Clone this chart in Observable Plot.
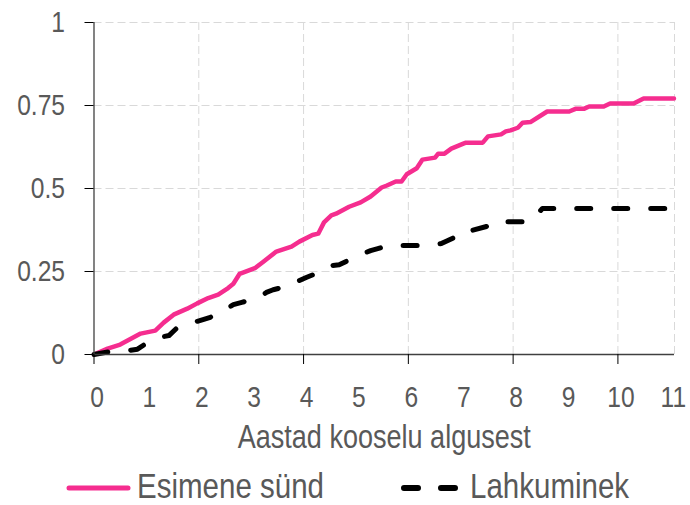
<!DOCTYPE html>
<html>
<head>
<meta charset="utf-8">
<script src="https://cdn.jsdelivr.net/npm/d3@7"></script>
<script src="https://cdn.jsdelivr.net/npm/@observablehq/plot@0.6"></script>
<style>
  html, body { margin: 0; padding: 0; background: #fff; }
  #chart { width: 690px; height: 505px; position: relative; }
</style>
</head>
<body>
<div id="chart"></div>
<script>
// Series: first birth (Esimene sünd)
const birthT = [0, 0.26, 0.5, 0.89, 1.17, 1.33, 1.52, 1.78, 1.97, 2.18, 2.37, 2.56, 2.66, 2.78, 3.07, 3.22, 3.48, 3.77, 3.92, 4.17, 4.28, 4.39, 4.53, 4.62, 4.87, 5.09, 5.28, 5.49, 5.59, 5.76, 5.87, 5.97, 6.16, 6.27, 6.51, 6.57, 6.69, 6.82, 7.05, 7.1, 7.42, 7.52, 7.77, 7.86, 7.95, 8.09, 8.18, 8.33, 8.65, 9.07, 9.19, 9.35, 9.45, 9.73, 9.85, 10.3, 10.49, 11.07];
const birthV = [0, 0.018, 0.03, 0.063, 0.072, 0.096, 0.12, 0.138, 0.154, 0.17, 0.18, 0.2, 0.213, 0.243, 0.26, 0.278, 0.31, 0.325, 0.34, 0.36, 0.364, 0.398, 0.419, 0.424, 0.445, 0.458, 0.476, 0.503, 0.509, 0.521, 0.521, 0.543, 0.561, 0.587, 0.593, 0.605, 0.605, 0.62, 0.635, 0.638, 0.638, 0.657, 0.663, 0.672, 0.675, 0.683, 0.698, 0.7, 0.732, 0.732, 0.74, 0.74, 0.747, 0.747, 0.756, 0.756, 0.771, 0.771];
// Series: separation (Lahkuminek)
const sepT = [0, 0.32, 0.7, 0.83, 1.02, 1.33, 1.43, 1.59, 1.97, 2.22, 2.53, 2.66, 2.82, 3.16, 3.29, 3.42, 3.79, 3.92, 4.05, 4.43, 4.53, 4.68, 5.0, 5.28, 5.62, 5.97, 6.33, 6.63, 6.95, 7.0, 7.2, 7.55, 7.65, 7.86, 8.24, 8.33, 8.47, 8.56, 11.07];
const sepV = [0, 0.009, 0.013, 0.016, 0.036, 0.054, 0.057, 0.081, 0.1, 0.112, 0.138, 0.15, 0.157, 0.172, 0.187, 0.195, 0.21, 0.223, 0.232, 0.256, 0.268, 0.27, 0.295, 0.313, 0.328, 0.328, 0.328, 0.334, 0.358, 0.37, 0.373, 0.388, 0.4, 0.4, 0.4, 0.403, 0.424, 0.44, 0.44];

const seriesNames = ["Esimene sünd", "Lahkuminek"];
const xTickLabels = [0, 1, 2, 3, 4, 5, 6, 7, 8, 9, 10, 11];
const xTickMarks = [0, 2, 4, 6, 8, 10];
const yTicks = [0, 0.25, 0.5, 0.75, 1];
const xTitle = "Aastad kooselu algusest";
const xMax = 11.08;

const birth = birthT.map((t, i) => ({t, v: birthV[i]}));
const sep = sepT.map((t, i) => ({t, v: sepV[i]}));

const PINK = "#f52d8f";
const TEXT = "#595959";
const GRID = "#d9d9d9";
const FONT = '"Liberation Sans", Arial, sans-serif';
const NARROW = 0.82; // horizontal compression to mimic a narrow face

const fmt = d => String(d);

const plot = Plot.plot({
  width: 690,
  height: 462,
  marginLeft: 93.5,
  marginRight: 16,
  marginTop: 22,
  marginBottom: 108,
  style: {fontFamily: FONT, color: TEXT, background: "#fff", overflow: "visible"},
  x: {domain: [0, xMax]},
  y: {domain: [0, 1]},
  marks: [
    Plot.gridY(yTicks.filter(d => d > 0), {stroke: GRID, strokeOpacity: 1, strokeDasharray: "8,4", strokeWidth: 1}),
    Plot.gridX(xTickMarks.filter(d => d > 0), {stroke: GRID, strokeOpacity: 1, strokeDasharray: "8,4", strokeWidth: 1}),
    Plot.ruleX([xMax], {stroke: GRID, strokeDasharray: "8,4", strokeWidth: 1}),
    Plot.line(birth, {x: "t", y: "v", stroke: PINK, strokeWidth: 4.5, strokeLinejoin: "round", strokeLinecap: "round"}),
    Plot.line(sep, {x: "t", y: "v", stroke: "#000", strokeWidth: 5, strokeDasharray: "14,23", strokeLinecap: "round", strokeLinejoin: "round"}),
    Plot.ruleX([0], {stroke: "#404040", strokeWidth: 1.3}),
    Plot.ruleY([0], {stroke: "#404040", strokeWidth: 1.3}),
    Plot.axisY({ticks: yTicks, tickFormat: fmt, tickSize: 9, tickPadding: 20, fontSize: 30, fill: TEXT, stroke: "#000", label: null}),
    Plot.axisX({ticks: xTickMarks, tickFormat: () => "", tickSize: 10, stroke: "#000", label: null}),
    Plot.axisX({ticks: xTickLabels, tickFormat: fmt, tickSize: 0, tickPadding: 31, dx: 3, fontSize: 30, fill: TEXT, label: null}),
    Plot.text([xTitle], {frameAnchor: "bottom", dy: 83, lineAnchor: "middle", fontSize: 33, fill: TEXT})
  ]
});

// compress text horizontally (narrow-face look); positions stay in the translate
plot.querySelectorAll("text").forEach(t => {
  const tr = t.getAttribute("transform") || "";
  t.setAttribute("transform", (tr + ` scale(${NARROW},1)`).trim());
});

const chart = document.getElementById("chart");
chart.appendChild(plot);

// Legend below the plot
const ns = "http://www.w3.org/2000/svg";
const leg = document.createElementNS(ns, "svg");
leg.setAttribute("width", 690);
leg.setAttribute("height", 43);
leg.style.display = "block";
leg.innerHTML = `
  <line x1="69" y1="26" x2="128" y2="26" stroke="${PINK}" stroke-width="5" stroke-linecap="round"/>
  <text transform="translate(137,36) scale(${NARROW},1)" font-size="36" fill="${TEXT}" font-family='${FONT}'>${seriesNames[0]}</text>
  <line x1="404" y1="26" x2="456" y2="26" stroke="#000" stroke-width="6" stroke-linecap="round" stroke-dasharray="14,23"/>
  <text transform="translate(470,36) scale(${NARROW},1)" font-size="36" fill="${TEXT}" font-family='${FONT}'>${seriesNames[1]}</text>
`;
chart.appendChild(leg);
</script>
</body>
</html>
